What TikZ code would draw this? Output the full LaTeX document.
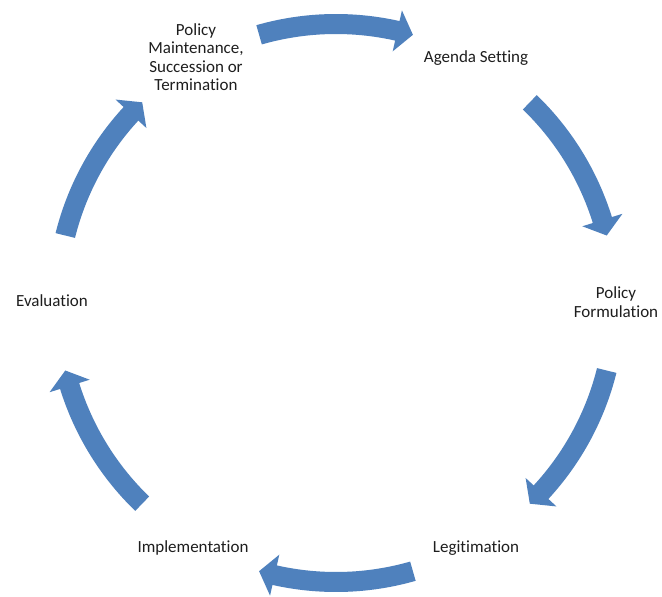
\documentclass[tikz,border=0pt]{standalone}
\usepackage{fontspec}
\setmainfont{Carlito}[Ligatures={NoCommon}]
\usetikzlibrary{calc}
\definecolor{arrowblue}{RGB}{79,129,189}
\definecolor{txt}{RGB}{30,30,30}
\tikzset{
  lbl/.style={align=center, text=txt, font=\fontsize{17}{18.5}\selectfont, inner sep=0pt},
  arrowfill/.style={fill=arrowblue, draw=none}
}
\newcommand\cycarrow[2]{%
  \fill[arrowfill] ($(C)+(#1:289pt)$) arc[start angle=#1, end angle=#2+3.3, radius=289pt]
    -- ($(C)+(#2+3.3:300pt)$) -- ($(C)+(#2:279pt)$) -- ($(C)+(#2+3.3:258pt)$)
    -- ($(C)+(#2+3.3:269pt)$) arc[start angle=#2+3.3, end angle=#1, radius=269pt] -- cycle;}
\begin{document}
\begin{tikzpicture}
\useasboundingbox[fill=white] (0pt,0pt) rectangle (662pt,-597pt);
\coordinate (C) at (336pt,-303pt);
\node[lbl] (pm) at (196pt,-57pt) {Policy\\Maintenance,\\Succession or\\Termination};
\node[lbl] (as) at (476pt,-58pt) {Agenda Setting};
\node[lbl] (pf) at (616pt,-302pt) {Policy\\Formulation};
\node[lbl] (lg) at (476pt,-548pt) {Legitimation};
\node[lbl] (im) at (193pt,-548pt) {Implementation};
\node[lbl] (ev) at (52pt,-301pt) {Evaluation};
\cycarrow{106}{74}
\cycarrow{46}{14}
\cycarrow{-14}{-46}
\cycarrow{-74}{-106}
\cycarrow{-134}{-166}
\cycarrow{-194}{-226}
\end{tikzpicture}
\end{document}
